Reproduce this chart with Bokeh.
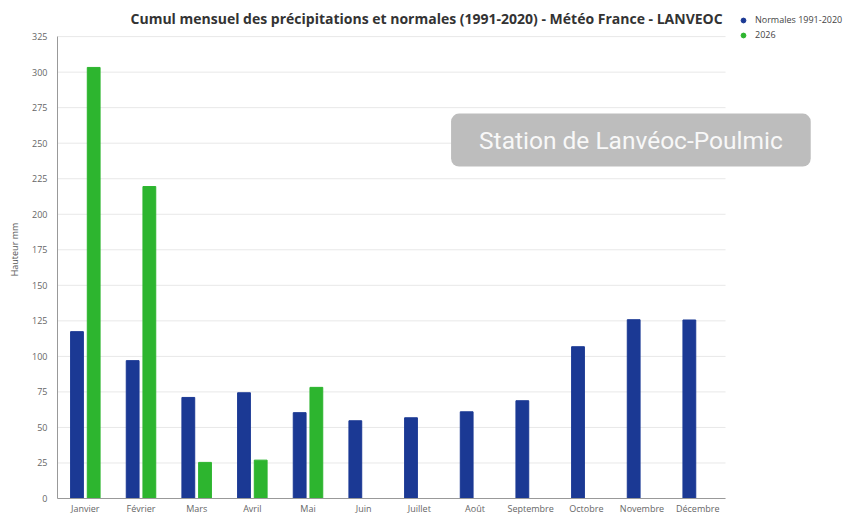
from bokeh.plotting import figure
from bokeh.models import ColumnDataSource, Legend, LegendItem, Label, Range1d, FixedTicker
from bokeh.transform import dodge
from bokeh.embed import file_html
from bokeh.resources import INLINE

months = ["Janvier", "Février", "Mars", "Avril", "Mai", "Juin", "Juillet",
          "Août", "Septembre", "Octobre", "Novembre", "Décembre"]
normales = [117.4, 97.0, 71.1, 74.4, 60.4, 54.7, 56.8, 61.0, 68.8, 106.8, 125.8, 125.6]
months_2026 = ["Janvier", "Février", "Mars", "Avril", "Mai"]
values_2026 = [303.3, 219.5, 25.4, 27.0, 78.2]
y_ticks = list(range(0, 326, 25))

BLUE = "#1b3994"
GREEN = "#2db52f"

pos = {m: i + 1 for i, m in enumerate(months)}
src_n = ColumnDataSource(dict(x=[pos[m] for m in months], v=normales))
src_g = ColumnDataSource(dict(x=[pos[m] for m in months_2026], v=values_2026))

p = figure(x_range=Range1d(0.5, 14.637), y_range=Range1d(0, 350.4),
           width=844, height=517, output_backend="svg", toolbar_location=None,
           min_border_left=57, min_border_right=0, min_border_top=0, min_border_bottom=19)

# horizontal grid lines limited to the plotting area of the chart
p.segment(x0=0.5, x1=len(months) + 0.5, y0=y_ticks, y1=y_ticks,
          line_color="#e8e8e8", line_width=1)

p.vbar(x=dodge("x", -0.15), top="v", width=0.23, source=src_n,
       fill_color=BLUE, line_color=BLUE)
p.vbar(x=dodge("x", 0.15), top="v", width=0.23, source=src_g,
       fill_color=GREEN, line_color=GREEN)

p.outline_line_color = None
p.xgrid.grid_line_color = None
p.ygrid.grid_line_color = None

p.yaxis.ticker = FixedTicker(ticks=y_ticks)
p.xaxis.ticker = FixedTicker(ticks=[pos[m] for m in months])
p.xaxis.major_label_overrides = {pos[m]: m for m in months}
p.xaxis.bounds = (0.5, len(months) + 0.5)
p.yaxis.bounds = (0, 325)

for ax in (p.xaxis, p.yaxis):
    ax.axis_line_color = "#999999"
    ax.major_tick_line_color = None
    ax.minor_tick_line_color = None
    ax.major_tick_out = 0
    ax.major_tick_in = 0
    ax.major_label_text_font = "Open Sans"
    ax.major_label_text_font_size = "9px"
    ax.major_label_text_color = "#666666"

p.yaxis.major_label_standoff = 10
p.xaxis.major_label_standoff = 3
p.yaxis.axis_label = "Hauteur mm"
p.yaxis.axis_label_text_font = "Open Sans"
p.yaxis.axis_label_text_font_size = "9px"
p.yaxis.axis_label_text_font_style = "normal"
p.yaxis.axis_label_text_color = "#555555"
p.yaxis.axis_label_standoff = 8

# title
title = Label(x=7.13, y=337.7,
              text="Cumul mensuel des précipitations et normales (1991-2020) - Météo France - LANVEOC",
              text_font="Open Sans", text_font_size="14px", text_font_style="bold",
              text_color="#333333", text_align="center", text_baseline="middle")
p.add_layout(title)

# legend with circle markers
nan = float("nan")
d1 = p.scatter(x=[nan], y=[nan], marker="circle", size=12, fill_color=BLUE, line_color=BLUE)
d2 = p.scatter(x=[nan], y=[nan], marker="circle", size=12, fill_color=GREEN, line_color=GREEN)
legend = Legend(items=[LegendItem(label="Normales 1991-2020", renderers=[d1]),
                       LegendItem(label="2026", renderers=[d2])],
                location=(680, 457), border_line_color=None, background_fill_alpha=0,
                label_text_font="Open Sans", label_text_font_size="9px",
                label_text_color="#444444", glyph_width=12, glyph_height=12,
                label_height=12, spacing=2, padding=2, margin=0, label_standoff=6)
p.add_layout(legend, "center")

# station annotation
lab = Label(x=10.80, y=252.2, text="Station de Lanvéoc-Poulmic",
            text_font="Roboto", text_font_size="24.5px", text_color="#f8f8f8",
            text_align="center", text_baseline="middle",
            background_fill_color="#bdbdbd", background_fill_alpha=1.0,
            border_radius=8, padding=dict(left=28, right=28, top=12, bottom=12))
p.add_layout(lab)

open("out.html", "w").write(file_html(p, INLINE))
